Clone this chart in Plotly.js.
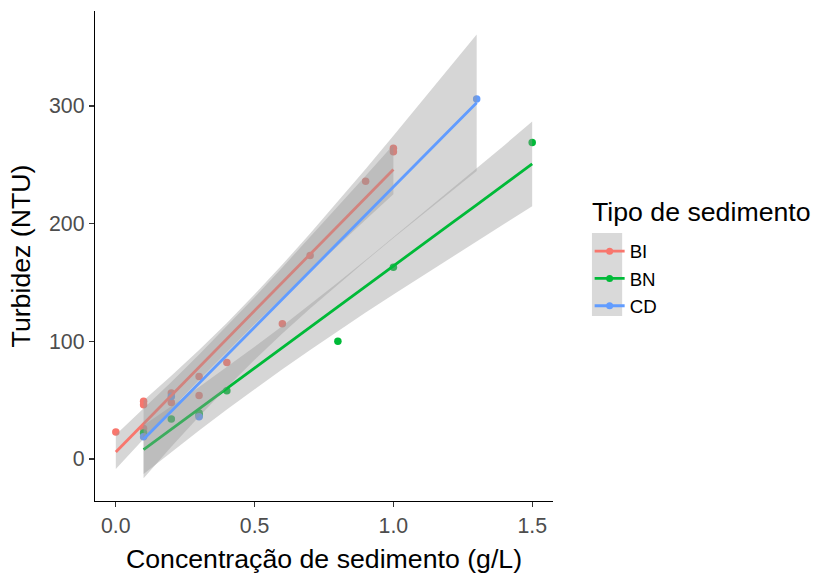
<!DOCTYPE html>
<html>
<head>
<meta charset="utf-8">
<script src="https://cdn.plot.ly/plotly-3.0.1.min.js"></script>
<style>html,body{margin:0;padding:0;background:#fff;}#chart{width:817px;height:576px;}</style>
</head>
<body>
<div id="chart"></div>
<script>
// ---- Data ----
const groups = ["BI", "BN", "CD"];
const groupColors = ["#F8766D", "#00BA38", "#619CFF"];

// Observed points
const biX = [0.0, 0.1, 0.1, 0.1, 0.2, 0.2, 0.3, 0.3, 0.4, 0.6, 0.7, 0.9, 1.0, 1.0];
const biY = [23, 49, 46, 26, 56, 48, 70, 54, 82, 115, 173, 236, 261, 264];
const bnX = [0.1, 0.2, 0.3, 0.3, 0.4, 0.8, 1.0, 1.5];
const bnY = [22, 34, 39, 37, 58, 100, 163, 269];
const cdX = [0.1, 0.2, 0.3, 1.3];
const cdY = [19, 53, 36, 306];

// Linear fits (geom_smooth, method = "lm") with 95% confidence band
const biFitX = [0.0, 0.1, 0.2, 0.3, 0.4, 0.5, 0.6, 0.7, 0.8, 0.9, 1.0];
const biFitY = [6, 30, 54, 78, 102, 126, 150, 174, 198, 222, 246];
const biLow  = [-8.5, 17.2, 42.5, 67.1, 91.1, 114.5, 137.2, 159.5, 181.5, 203.3, 225.0];
const biHigh = [20.5, 42.8, 65.5, 88.9, 112.9, 137.5, 162.8, 188.5, 214.5, 240.7, 267.0];

const bnFitX = [0.1, 0.2, 0.3, 0.4, 0.5, 0.6, 0.7, 0.8, 0.9, 1.0, 1.1, 1.2, 1.3, 1.4, 1.5];
const bnFitY = [8.0, 25.4, 42.7, 60.0, 77.4, 94.7, 112.0, 129.3, 146.7, 164.0, 181.3, 198.7, 216.0, 233.3, 250.7];
const bnLow  = [-12.7, 6.0, 24.3, 42.1, 59.5, 76.3, 92.6, 108.6, 124.4, 139.8, 155.0, 170.1, 185.0, 199.9, 214.7];
const bnHigh = [28.7, 44.8, 61.1, 77.9, 95.3, 113.1, 131.4, 150.0, 169.0, 188.2, 207.6, 227.3, 247.0, 266.7, 286.7];

const cdFitX = [0.1, 0.2, 0.3, 0.4, 0.5, 0.6, 0.7, 0.8, 0.9, 1.0, 1.1, 1.2, 1.3];
const cdFitY = [16.7, 40.6, 64.4, 88.2, 112.1, 135.9, 159.7, 183.5, 207.4, 231.2, 255.0, 278.9, 302.7];
const cdLow  = [-16.3, 10.5, 36.2, 60.8, 84.3, 106.6, 127.8, 148.3, 168.3, 187.8, 206.9, 226.0, 244.7];
const cdHigh = [49.7, 70.7, 92.6, 115.6, 139.9, 165.2, 191.6, 218.7, 246.5, 274.6, 303.1, 331.8, 360.7];

const xTicks = [0, 0.5, 1.0, 1.5];
const xTickText = ["0.0", "0.5", "1.0", "1.5"];
const yTicks = [0, 100, 200, 300];
const yTickText = ["0", "100", "200", "300"];

const xTitle = "Concentração de sedimento (g/L)";
const yTitle = "Turbidez (NTU)";
const legendTitle = "Tipo de sedimento";

// ---- Build traces ----
const FONT = "Liberation Sans, Arial, sans-serif";
const bandFill = "rgba(153,153,153,0.4)";
const pts = [[biX, biY], [bnX, bnY], [cdX, cdY]];
const fits = [
  [biFitX, biFitY, biLow, biHigh],
  [bnFitX, bnFitY, bnLow, bnHigh],
  [cdFitX, cdFitY, cdLow, cdHigh]
];

const traces = [];
pts.forEach((p, i) => {
  traces.push({
    type: "scatter", mode: "markers", x: p[0], y: p[1],
    marker: {color: groupColors[i], size: 7.5},
    showlegend: false, hoverinfo: "x+y", name: groups[i]
  });
});
fits.forEach((f, i) => {
  const [fx, fy, lo, hi] = f;
  traces.push({
    type: "scatter", mode: "lines",
    x: fx.concat(fx.slice().reverse()),
    y: lo.concat(hi.slice().reverse()),
    fill: "toself", fillcolor: bandFill,
    line: {width: 0, color: "rgba(0,0,0,0)"},
    showlegend: false, hoverinfo: "skip"
  });
  traces.push({
    type: "scatter", mode: "lines", x: fx, y: fy,
    line: {color: groupColors[i], width: 2.8},
    showlegend: false, name: groups[i]
  });
});
// legend entries (line + point keys)
groups.forEach((g, i) => {
  traces.push({
    type: "scatter", mode: "lines+markers", x: [null], y: [null],
    name: g, line: {color: groupColors[i], width: 2.8},
    marker: {color: groupColors[i], size: 7}, hoverinfo: "skip"
  });
});

const axisCommon = {
  showline: true, linecolor: "#000", linewidth: 1.2,
  ticks: "outside", ticklen: 5, tickwidth: 1.2, tickcolor: "#333",
  showgrid: false, zeroline: false,
  tickfont: {family: FONT, size: 21.3, color: "#4D4D4D"}
};

const layout = {
  width: 817, height: 576,
  margin: {l: 95, r: 264, t: 11, b: 75, autoexpand: false},
  paper_bgcolor: "#fff", plot_bgcolor: "#fff",
  font: {family: FONT, color: "#000"},
  xaxis: Object.assign({}, axisCommon, {
    range: [-0.075, 1.575], tickvals: xTicks, ticktext: xTickText,
    title: {text: xTitle, font: {family: FONT, size: 26.7, color: "#000"}, standoff: 12}
  }),
  yaxis: Object.assign({}, axisCommon, {
    range: [-35.7, 380.7], tickvals: yTicks, ticktext: yTickText,
    title: {text: yTitle, font: {family: FONT, size: 26.7, color: "#000"}, standoff: 10}
  }),
  showlegend: true,
  legend: {
    x: 1.08, xanchor: "left", y: 0.548, yanchor: "top",
    bgcolor: "rgba(0,0,0,0)",
    font: {family: FONT, size: 18.7, color: "#000"},
    itemwidth: 30, tracegroupgap: 0
  },
  annotations: [{
    text: legendTitle, xref: "paper", yref: "paper",
    x: 1.0808, xanchor: "left", y: 0.5898, yanchor: "middle",
    showarrow: false, font: {family: FONT, size: 26.7, color: "#000"}
  }],
  shapes: [{
    type: "rect", xref: "paper", yref: "paper",
    x0: 1.085, x1: 1.151, y0: 0.3776, y1: 0.547,
    fillcolor: "#D9D9D9", line: {width: 0}, layer: "below"
  }]
};

Plotly.newPlot("chart", traces, layout, {displayModeBar: false, staticPlot: true});
</script>
</body>
</html>
